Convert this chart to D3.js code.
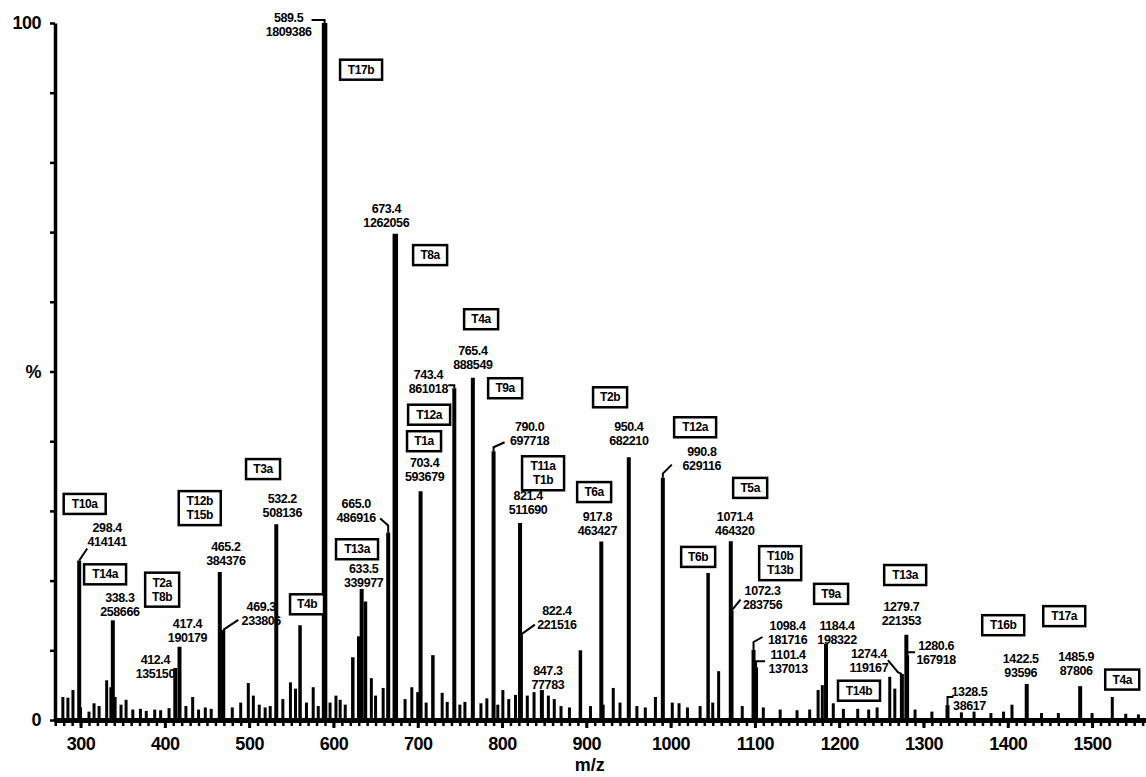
<!DOCTYPE html>
<html>
<head>
<meta charset="utf-8">
<script src="https://cdn.jsdelivr.net/npm/d3@7"></script>
<style>
  body { margin: 0; background: #fff; }
  text { font-family: "Liberation Sans", Arial, sans-serif; font-weight: bold; fill: #000; }
</style>
</head>
<body>
<div class="canvas"></div>
<script>
// labelled peaks: m/z and ion counts (base peak = 100%)
const peakMz = [298.4, 338.3, 412.4, 417.4, 465.2, 469.3, 532.2, 589.5, 633.5, 665.0, 673.4,
  703.4, 743.4, 765.4, 790.0, 821.4, 822.4, 847.3, 917.8, 950.4, 990.8, 1071.4, 1072.3,
  1098.4, 1101.4, 1184.4, 1274.4, 1279.7, 1280.6, 1328.5, 1422.5, 1485.9];
const peakCounts = [414141, 258666, 135150, 190179, 384376, 233806, 508136, 1809386, 339977, 486916, 1262056,
  593679, 861018, 888549, 697718, 511690, 221516, 77783, 463427, 682210, 629116, 464320, 283756,
  181716, 137013, 198322, 119167, 221353, 167918, 38617, 93596, 87806];
const basePeak = 1809386;

// unlabelled peaks and baseline grass, in % of base peak
const minorMz = [279, 285, 291, 300, 310, 316, 322, 331, 336, 341, 348, 354, 362, 371, 378, 388, 395, 405,
  425, 433, 440, 448, 455, 480, 490, 499, 505, 512, 519, 525, 540, 549, 555, 560.4, 568, 576, 582, 596,
  603, 608, 614, 623, 630, 638, 645, 650, 659, 685, 693, 700, 710, 718, 729, 735, 750, 756, 775, 782,
  795, 801, 808, 816, 830, 838, 855, 862, 870, 880, 893, 905, 920, 932, 940, 960, 970, 982, 1002,
  1010, 1020, 1035, 1044.5, 1050, 1057, 1085, 1110, 1130, 1150, 1165, 1175, 1180, 1193, 1205, 1222,
  1235, 1245, 1260, 1266, 1290, 1310, 1345, 1360, 1380, 1395, 1405, 1440, 1460, 1500, 1524, 1540, 1555];
const minorPct = [3.3, 3.2, 4.3, 1.8, 1.2, 2.4, 2.0, 5.7, 4.7, 3.3, 2.2, 2.9, 1.5, 1.6, 1.3, 1.5, 1.4, 1.7,
  2.0, 3.3, 1.5, 1.8, 1.6, 1.8, 2.5, 5.3, 3.5, 2.2, 1.8, 2.0, 3.0, 5.4, 4.5, 13.6, 2.5, 4.7, 2.0, 2.5,
  3.5, 2.9, 2.2, 9.0, 12.0, 17.0, 6.0, 3.5, 4.6, 3.0, 4.7, 4.0, 2.5, 9.3, 3.9, 2.6, 2.2, 2.6, 2.4, 3.1,
  2.2, 4.3, 3.0, 3.6, 3.5, 4.0, 3.5, 3.0, 2.0, 1.8, 10.0, 2.0, 2.2, 4.6, 2.5, 2.0, 1.8, 3.3, 2.5,
  2.4, 1.8, 2.0, 21.1, 2.5, 7.0, 2.0, 1.8, 1.5, 1.4, 1.5, 4.3, 5.0, 2.4, 1.6, 1.6,
  1.5, 1.8, 6.2, 4.5, 1.5, 1.2, 1.1, 1.2, 1.0, 1.2, 2.2, 1.0, 1.0, 1.0, 3.3, 0.9, 0.8];

// fragment tags, placed in axis units
const fragNames = ['T17b', 'T8a', 'T4a', 'T9a', 'T12a', 'T1a', 'T2b', 'T12a', 'T11a\nT1b', 'T6a', 'T5a',
  'T3a', 'T10a', 'T12b\nT15b', 'T13a', 'T6b', 'T10b\nT13b', 'T14a', 'T2a\nT8b', 'T4b', 'T9a', 'T13a',
  'T16b', 'T17a', 'T4a', 'T14b'];
const fragMz = [632.8, 714.7, 775.2, 803.7, 713.5, 707.5, 928.2, 1029.1, 848.7, 909.3, 1094.4,
  516.5, 304.9, 441.4, 628.0, 1032.7, 1130.0, 329.1, 396.8, 568.7, 1190.4, 1278.3,
  1394.6, 1467.0, 1535.8, 1223.5];
const fragPct = [93.3, 66.7, 57.5, 47.6, 43.8, 40.0, 46.3, 42.0, 35.4, 32.7, 33.3,
  36.0, 31.0, 30.4, 24.5, 23.4, 22.5, 20.9, 18.7, 16.6, 18.1, 20.8,
  13.6, 14.9, 5.8, 4.2];

const xTicks = [300, 400, 500, 600, 700, 800, 900, 1000, 1100, 1200, 1300, 1400, 1500];
const yTicks = [0, 10, 20, 30, 40, 50, 60, 70, 80, 90, 100];

// label offsets (px) from each peak top: centre x, first baseline
const labelOffsets = [[28, -28], [7, -18], [-20, -4], [8, -19], [6, -21], [38, -19], [6, -21], [-36, -1],
  [2, -16], [-32, -24], [-9, -21], [4, -24], [-26, -9], [0, -23], [36, -20], [8, -23], [36, -20],
  [6, -15], [-4, -20], [0, -26], [39, -22], [4, -20], [31, -16], [34, -20], [32, -8], [11, -14],
  [-33, -16], [-5, -24], [29, -5], [22, -9], [-6, -21], [-4, -25]];
// leader lines from the peak top to its label
const leaders = {
  0: [[8, -12]], 5: [[15, -10]], 7: [[0, -3], [-13, -3]], 9: [[0, -7], [-8, -14]],
  12: [[0, -3], [-6, -3]], 14: [[0, -4], [11, -9]], 16: [[14, -10]], 20: [[0, -4], [9, -13]],
  22: [[9, -11]], 23: [[0, -8], [9, -13]], 24: [[0, -6], [9, -6]], 26: [[-4, -2], [-14, -14]],
  28: [[0, -3], [8, -3]], 29: [[0, -8], [6, -8]]
};

const dims = { width: 1146, height: 777 };

const svg = d3.select('.canvas')
  .append('svg')
  .attr('width', dims.width)
  .attr('height', dims.height);

const x = d3.scaleLinear().domain([268.5, 1564]).range([54, 1146]);
const y = d3.scaleLinear().domain([0, 100]).range([720, 23]);

// minor x ticks every 10 units
svg.append('g')
  .attr('transform', `translate(0, ${y(0)})`)
  .call(d3.axisBottom(x).tickValues(d3.range(270, 1561, 10)).tickSize(6).tickFormat(''))
  .call(g => g.select('.domain').remove())
  .selectAll('line').attr('stroke-width', 2.5);

// major x axis
const xAxis = svg.append('g')
  .attr('transform', `translate(0, ${y(0)})`)
  .call(d3.axisBottom(x).tickValues(xTicks).tickFormat(d3.format('d'))
    .tickSize(8).tickSizeOuter(0).tickPadding(9));
xAxis.attr('font-family', null).attr('font-size', null);
xAxis.select('.domain').attr('stroke-width', 5);
xAxis.selectAll('line').attr('stroke-width', 3);
xAxis.selectAll('text').attr('font-size', 18).attr('letter-spacing', -0.5);

// y axis
const yAxis = svg.append('g')
  .attr('transform', 'translate(55, 0)')
  .call(d3.axisLeft(y).tickValues(yTicks).tickSize(5).tickSizeOuter(0).tickPadding(9)
    .tickFormat(d => ({ 0: '0', 50: '%', 100: '100' })[d] || ''));
yAxis.attr('font-family', null).attr('font-size', null);
yAxis.select('.domain').attr('stroke-width', 3.5);
yAxis.selectAll('line').attr('stroke-width', 2.5);
yAxis.selectAll('text').attr('font-size', 18).attr('letter-spacing', -0.5);

svg.append('text')
  .attr('x', x(904)).attr('y', 771)
  .attr('text-anchor', 'middle')
  .attr('font-size', 18)
  .text('m/z');

// spectrum sticks
const minor = minorMz.map((mz, i) => ({ mz, pct: minorPct[i] }));
svg.append('g').selectAll('line')
  .data(minor)
  .join('line')
  .attr('x1', d => x(d.mz)).attr('x2', d => x(d.mz))
  .attr('y1', y(0)).attr('y2', d => y(d.pct))
  .attr('stroke', '#000')
  .attr('stroke-width', d => d.pct > 8 ? 3.5 : 3);

const peaks = peakMz.map((mz, i) => ({
  mz, counts: peakCounts[i], pct: peakCounts[i] / basePeak * 100, i
}));

svg.append('g').selectAll('line')
  .data(peaks)
  .join('line')
  .attr('x1', d => x(d.mz)).attr('x2', d => x(d.mz))
  .attr('y1', y(0)).attr('y2', d => y(d.pct))
  .attr('stroke', '#000')
  .attr('stroke-width', d => d.pct > 60 ? 5.5 : 4);

// leaders
svg.append('g').selectAll('path')
  .data(peaks.filter(d => leaders[d.i]))
  .join('path')
  .attr('fill', 'none')
  .attr('stroke', '#000')
  .attr('stroke-width', 2)
  .attr('d', d => {
    const px = x(d.mz), top = y(d.pct);
    return `M${px},${top}` + leaders[d.i].map(o => `L${px + o[0]},${top + o[1]}`).join('');
  });

// peak labels: m/z over counts
const labels = svg.append('g').selectAll('text')
  .data(peaks)
  .join('text')
  .attr('text-anchor', 'middle')
  .attr('font-size', 12.5)
  .attr('letter-spacing', -0.4)
  .attr('transform', d => `translate(${x(d.mz) + labelOffsets[d.i][0]}, ${y(d.pct) + labelOffsets[d.i][1]})`);
labels.append('tspan').attr('x', 0).attr('y', 0).text(d => d.mz.toFixed(1));
labels.append('tspan').attr('x', 0).attr('y', 14).text(d => d.counts);

// fragment tag boxes
const frags = fragNames.map((name, i) => ({ lines: name.split('\n'), mz: fragMz[i], pct: fragPct[i] }));
const tags = svg.append('g').selectAll('g')
  .data(frags)
  .join('g')
  .attr('transform', d => `translate(${x(d.mz)}, ${y(d.pct)})`);

tags.append('rect')
  .attr('x', d => -(d3.max(d.lines, l => l.length) * 8 + 10) / 2)
  .attr('y', d => d.lines.length > 1 ? -17 : -10)
  .attr('width', d => d3.max(d.lines, l => l.length) * 8 + 10)
  .attr('height', d => d.lines.length > 1 ? 34 : 20)
  .attr('fill', '#fff')
  .attr('stroke', '#000')
  .attr('stroke-width', 2.5);

tags.each(function(d) {
  const g = d3.select(this);
  const start = d.lines.length > 1 ? -3 : 4;
  d.lines.forEach((l, k) => {
    g.append('text')
      .attr('text-anchor', 'middle')
      .attr('font-size', 12)
      .attr('letter-spacing', -0.4)
      .attr('y', start + k * 14)
      .text(l);
  });
});
</script>
</body>
</html>
